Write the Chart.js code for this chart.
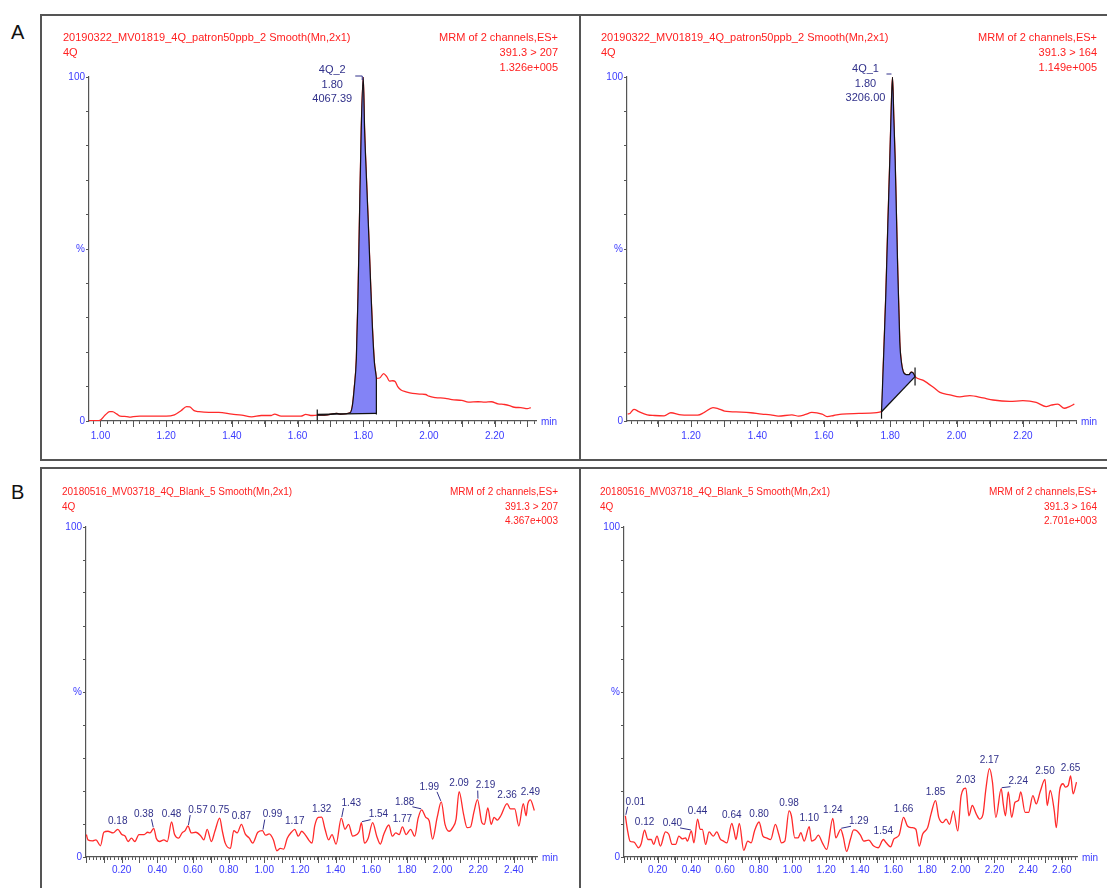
<!DOCTYPE html>
<html><head><meta charset="utf-8">
<script src="https://cdn.jsdelivr.net/npm/chart.js@4.4.1/dist/chart.umd.min.js"></script>
<style>
body{margin:0;width:1107px;height:888px;background:#fff;position:relative;overflow:hidden;font-family:"Liberation Sans",Arial,sans-serif;}
.box{position:absolute;border:2px solid #555;box-sizing:border-box;}
.vl{position:absolute;width:2px;background:#555;}
.letter{position:absolute;font-size:20px;color:#111;line-height:22px;}
.hdr{position:absolute;color:#ff2020;white-space:pre;}
.cv{position:absolute;}
</style></head>
<body>
<div class="box" style="left:40px;top:14px;width:1100px;height:447px;"></div>
<div class="vl" style="left:579px;top:14px;height:447px;"></div>
<div class="box" style="left:40px;top:467px;width:1100px;height:460px;"></div>
<div class="vl" style="left:579px;top:467px;height:430px;"></div>
<div class="letter" style="left:11px;top:21px;">A</div>
<div class="letter" style="left:11px;top:481px;">B</div>
<canvas id="cAL" class="cv" width="538" height="443" style="left:41px;top:16px;"></canvas>
<canvas id="cAR" class="cv" width="525" height="443" style="left:581px;top:16px;"></canvas>
<canvas id="cBL" class="cv" width="538" height="418" style="left:41px;top:469px;"></canvas>
<canvas id="cBR" class="cv" width="525" height="418" style="left:581px;top:469px;"></canvas>
<script>
// ---------------- DATA ----------------
const aLeftTitle = ['20190322_MV01819_4Q_patron50ppb_2 Smooth(Mn,2x1)', '4Q'];
const aLeftInfo = ['MRM of 2 channels,ES+', '391.3 > 207', '1.326e+005'];
const aRightTitle = ['20190322_MV01819_4Q_patron50ppb_2 Smooth(Mn,2x1)', '4Q'];
const aRightInfo = ['MRM of 2 channels,ES+', '391.3 > 164', '1.149e+005'];
const bLeftTitle = ['20180516_MV03718_4Q_Blank_5 Smooth(Mn,2x1)', '4Q'];
const bLeftInfo = ['MRM of 2 channels,ES+', '391.3 > 207', '4.367e+003'];
const bRightTitle = ['20180516_MV03718_4Q_Blank_5 Smooth(Mn,2x1)', '4Q'];
const bRightInfo = ['MRM of 2 channels,ES+', '391.3 > 164', '2.701e+003'];

const yTickValues = [0, 50, 100];
const yTickTexts = ['0', '%', '100'];
const aLeftTicks = ['1.00','1.20','1.40','1.60','1.80','2.00','2.20'];
const aRightTicks = ['1.20','1.40','1.60','1.80','2.00','2.20'];
const bLeftTicks = ['0.20','0.40','0.60','0.80','1.00','1.20','1.40','1.60','1.80','2.00','2.20','2.40'];
const bRightTicks = ['0.20','0.40','0.60','0.80','1.00','1.20','1.40','1.60','1.80','2.00','2.20','2.40','2.60'];

// [time (min), intensity (%)]
const aLeftTrace = [[0.965,0.1],[0.99,0.1],[1.00,0.3],[1.015,1.8],[1.028,2.7],[1.036,2.7],[1.05,2.0],[1.06,1.4],[1.08,1.3],[1.09,1.1],[1.10,1.3],[1.12,1.4],[1.16,1.4],[1.20,1.4],[1.225,1.8],[1.245,3.0],[1.262,4.2],[1.272,4.1],[1.285,3.0],[1.30,2.7],[1.33,2.5],[1.36,2.5],[1.40,2.0],[1.43,1.7],[1.46,1.2],[1.49,1.6],[1.52,1.6],[1.53,2.0],[1.55,1.4],[1.58,1.4],[1.61,1.4],[1.625,1.9],[1.64,1.6],[1.66,1.7],[1.69,1.8],[1.72,2.2],[1.73,2.0],[1.76,2.4],[1.767,4.5],[1.773,10],[1.779,18],[1.784,36],[1.788,56],[1.794,85],[1.800,100],[1.804,85],[1.810,70],[1.816,56],[1.822,41],[1.828,27],[1.834,17],[1.838,14],[1.84,12.4],[1.85,12.5],[1.862,13.8],[1.872,12.8],[1.88,11.6],[1.89,11.7],[1.897,11.5],[1.905,10],[1.915,9.0],[1.93,8.5],[1.95,8.0],[1.975,7.8],[1.99,7.7],[2.00,7.2],[2.02,6.8],[2.05,6.6],[2.07,6.2],[2.10,6.0],[2.12,5.5],[2.15,5.6],[2.17,5.5],[2.19,5.6],[2.21,5.0],[2.23,4.8],[2.245,4.5],[2.26,4.0],[2.28,3.9],[2.30,3.6],[2.31,3.9]];
const aLeftBase = [[1.66,1.9],[1.84,2.2]];
const aLeftPeakText = ['4Q_2','1.80','4067.39'];

const aRightTrace = [[1.009,2.0],[1.016,2.2],[1.028,3.4],[1.043,2.7],[1.068,1.8],[1.09,1.6],[1.119,1.5],[1.139,2.4],[1.17,1.8],[1.22,1.7],[1.24,2.5],[1.266,3.9],[1.281,3.6],[1.301,2.9],[1.352,2.6],[1.38,2.4],[1.413,2.0],[1.44,1.8],[1.463,1.4],[1.504,1.8],[1.524,1.4],[1.545,1.9],[1.564,2.5],[1.595,2.0],[1.61,1.3],[1.63,1.6],[1.655,2.0],[1.706,2.2],[1.74,2.3],[1.774,2.7],[1.780,18],[1.787,37],[1.793,57],[1.799,76],[1.803,90],[1.807,100],[1.811,88],[1.815,76],[1.822,47],[1.829,23],[1.834,17],[1.839,14.5],[1.848,13.5],[1.857,13.5],[1.863,14.2],[1.869,14],[1.875,12.9],[1.90,11.8],[1.93,9.8],[1.95,8.3],[1.98,7.6],[2.01,7.0],[2.04,7.4],[2.08,6.7],[2.11,6.1],[2.16,5.7],[2.20,5.9],[2.24,5.4],[2.27,4.2],[2.285,4.6],[2.305,4.9],[2.325,3.7],[2.34,4.2],[2.355,4.9]];
const aRightBase = [[1.774,2.7],[1.875,12.9]];
const aRightPeakText = ['4Q_1','1.80','3206.00'];

const bLeftTrace = [[0.002,6.8],[0.011,5.2],[0.036,4.9],[0.056,5.2],[0.081,3.4],[0.100,7.5],[0.123,7.8],[0.152,7.3],[0.178,8.4],[0.201,6.8],[0.220,6.3],[0.236,4.7],[0.255,5.7],[0.274,4.7],[0.297,6.8],[0.326,6.8],[0.346,7.5],[0.359,7.3],[0.380,8.7],[0.394,5.7],[0.413,4.7],[0.437,5.2],[0.456,4.7],[0.480,10.6],[0.497,6.8],[0.520,5.7],[0.539,7.3],[0.556,8.0],[0.572,9.4],[0.591,7.3],[0.616,7.5],[0.645,6.3],[0.661,5.2],[0.680,8.4],[0.703,4.7],[0.723,7.8],[0.750,11.8],[0.765,7.8],[0.781,4.2],[0.810,2.6],[0.829,8.0],[0.848,7.3],[0.872,9.9],[0.893,7.0],[0.916,5.7],[0.935,4.2],[0.964,7.5],[0.990,8.0],[1.007,6.6],[1.028,7.0],[1.051,5.2],[1.071,1.9],[1.090,2.6],[1.109,2.4],[1.129,5.7],[1.152,7.5],[1.171,8.4],[1.191,6.3],[1.210,7.8],[1.229,6.8],[1.249,5.2],[1.268,4.2],[1.283,9.4],[1.303,12.0],[1.322,12.1],[1.341,8.4],[1.361,5.2],[1.380,6.8],[1.403,3.9],[1.432,11.8],[1.453,8.4],[1.473,9.9],[1.496,6.3],[1.519,6.8],[1.533,7.8],[1.545,10.4],[1.562,4.2],[1.583,5.7],[1.608,10.4],[1.631,6.3],[1.651,3.9],[1.670,6.8],[1.699,9.7],[1.718,6.3],[1.738,7.3],[1.757,6.8],[1.775,9.1],[1.796,6.8],[1.821,8.4],[1.844,6.3],[1.863,11.7],[1.883,14.3],[1.906,12.0],[1.925,11.0],[1.944,5.4],[1.970,12.0],[1.993,16.7],[2.014,9.9],[2.037,7.8],[2.057,8.9],[2.076,11.5],[2.093,19.8],[2.118,13.0],[2.138,8.9],[2.157,9.1],[2.176,13.6],[2.196,17.4],[2.221,10.4],[2.235,9.9],[2.254,14.9],[2.273,9.9],[2.289,12.0],[2.308,11.2],[2.327,12.5],[2.362,16.2],[2.381,14.6],[2.405,14.6],[2.428,9.4],[2.453,16.2],[2.469,12.5],[2.478,16.0],[2.493,17.3],[2.515,14.1]];
const bLeftPeaks = ['0.18','0.38','0.48','0.57','0.75','0.87','0.99','1.17','1.32','1.43','1.54','1.77','1.88','1.99','2.09','2.19','2.36','2.49'];

const bRightTrace = [[0.008,12.5],[0.020,8.4],[0.036,4.8],[0.060,4.5],[0.086,2.8],[0.102,4.0],[0.122,8.1],[0.142,5.3],[0.162,5.3],[0.176,3.8],[0.196,6.3],[0.216,3.3],[0.246,7.6],[0.266,6.9],[0.286,3.8],[0.306,3.8],[0.326,6.3],[0.346,5.5],[0.366,5.8],[0.376,4.8],[0.400,7.9],[0.415,4.3],[0.437,11.5],[0.452,8.4],[0.465,8.4],[0.485,3.8],[0.505,7.6],[0.531,6.3],[0.551,7.6],[0.571,5.5],[0.591,4.8],[0.611,4.3],[0.640,10.2],[0.653,7.9],[0.665,5.3],[0.685,10.2],[0.711,2.0],[0.735,4.8],[0.755,4.3],[0.775,7.9],[0.802,10.6],[0.825,6.3],[0.845,5.8],[0.871,5.3],[0.899,9.9],[0.919,6.9],[0.935,4.3],[0.955,4.8],[0.980,14.0],[0.994,12.5],[1.014,5.8],[1.034,5.8],[1.050,7.4],[1.070,4.8],[1.100,9.2],[1.114,4.8],[1.134,5.3],[1.154,6.6],[1.178,4.3],[1.204,2.3],[1.240,11.7],[1.258,5.8],[1.287,8.4],[1.302,6.1],[1.322,1.7],[1.344,5.3],[1.364,8.2],[1.384,7.9],[1.404,6.6],[1.424,4.8],[1.453,5.1],[1.483,3.3],[1.509,2.8],[1.540,5.3],[1.557,4.3],[1.583,3.1],[1.603,5.5],[1.633,6.6],[1.660,12.0],[1.683,9.4],[1.709,8.9],[1.733,8.4],[1.753,3.3],[1.773,6.9],[1.803,8.9],[1.823,13.0],[1.850,17.1],[1.869,12.0],[1.893,10.4],[1.913,11.5],[1.933,9.9],[1.956,14.0],[1.982,7.9],[2.002,18.6],[2.030,20.9],[2.048,12.5],[2.068,15.6],[2.092,13.0],[2.112,11.5],[2.132,13.0],[2.148,20.2],[2.170,26.8],[2.188,22.7],[2.208,12.0],[2.240,20.7],[2.252,16.1],[2.265,12.5],[2.282,19.7],[2.302,12.0],[2.322,16.6],[2.342,17.1],[2.356,19.7],[2.382,13.5],[2.402,13.5],[2.428,18.6],[2.448,16.1],[2.472,19.9],[2.500,23.5],[2.513,15.6],[2.531,20.2],[2.555,14.0],[2.567,8.9],[2.587,20.2],[2.607,22.2],[2.621,21.2],[2.638,21.7],[2.652,24.6],[2.667,19.1],[2.687,22.7]];
const bRightPeaks = ['0.01','0.12','0.40','0.44','0.64','0.80','0.98','1.10','1.24','1.29','1.54','1.66','1.85','2.03','2.17','2.24','2.50','2.65'];

// ---------------- STYLE (label offsets in px, not data) ----------------
const bLeftLabelOffsets = {'0.38':[-10,-14],'0.57':[10,-16],'0.99':[10,-16],'1.43':[10,-15],'1.54':[17,-8],'1.88':[-17,-8],'1.99':[-12,-15],'2.19':[8,-14]};
const bRightLabelOffsets = {'0.01':[10,-14],'0.40':[-19,-8],'1.29':[18,-8],'2.24':[17,-7]};

const FONT = '"Liberation Sans", Arial, sans-serif';
const BLUE = '#3a3aff';
const NAVY = '#30308a';
const AXIS = '#555';
Chart.defaults.font.family = FONT;

// ---------------- HEADERS ----------------
function header(left, top, lines, align, size, lh, width) {
  const d = document.createElement('div');
  d.className = 'hdr';
  d.style.left = left + 'px';
  d.style.top = top + 'px';
  d.style.fontSize = size + 'px';
  d.style.lineHeight = lh + 'px';
  d.style.textAlign = align;
  if (width) d.style.width = width + 'px';
  d.textContent = lines.join('\n');
  document.body.appendChild(d);
}
header(63, 29.5, aLeftTitle, 'left', 11, 15);
header(300, 29.5, aLeftInfo, 'right', 11, 15, 258);
header(601, 29.5, aRightTitle, 'left', 11, 15);
header(840, 29.5, aRightInfo, 'right', 11, 15, 257);
header(62, 485, bLeftTitle, 'left', 10, 14.5);
header(300, 485, bLeftInfo, 'right', 10, 14.5, 258);
header(600, 485, bRightTitle, 'left', 10, 14.5);
header(840, 485, bRightInfo, 'right', 10, 14.5, 257);

// ---------------- CHARTS ----------------
function pts(arr) { return arr.map(p => ({x: p[0], y: p[1]})); }

function findPeak(trace, t) {
  let best = null;
  for (const p of trace) {
    if (Math.abs(p[0] - t) <= 0.016 && (!best || p[1] > best[1])) best = p;
  }
  return best;
}

function extrasPlugin(spec) {
  return {
    id: 'extras',
    afterDraw(chart) {
      const ctx = chart.ctx, xs = chart.scales.x, ys = chart.scales.y, ca = chart.chartArea;
      ctx.save();
      // major x ticks every 0.1 min
      ctx.strokeStyle = AXIS; ctx.lineWidth = 1;
      for (const t of xs.ticks) {
        const q = t.value * 10;
        if (Math.abs(q - Math.round(q)) < 1e-6) {
          const px = Math.round(xs.getPixelForValue(t.value)) + 0.5;
          ctx.beginPath(); ctx.moveTo(px, ca.bottom); ctx.lineTo(px, ca.bottom + 6); ctx.stroke();
        }
      }
      // "min"
      ctx.fillStyle = BLUE; ctx.font = '10px ' + FONT; ctx.textAlign = 'left'; ctx.textBaseline = 'middle';
      ctx.fillText('min', ca.right + 5, ca.bottom + 1);

      // integrated peak annotation (A panels)
      if (spec.base) {
        const b0 = spec.base[0], b1 = spec.base[1];
        const x0 = xs.getPixelForValue(b0[0]), y0 = ys.getPixelForValue(b0[1]);
        const x1 = xs.getPixelForValue(b1[0]), y1 = ys.getPixelForValue(b1[1]);
        const endPt = spec.trace.find(p => Math.abs(p[0] - b1[0]) < 1e-9);
        const ye = ys.getPixelForValue(endPt[1]);
        ctx.strokeStyle = '#111'; ctx.lineWidth = 1.2;
        ctx.beginPath(); ctx.moveTo(x0, y0 + spec.startTick[0]); ctx.lineTo(x0, y0 + spec.startTick[1]); ctx.stroke();
        ctx.beginPath(); ctx.moveTo(x1, Math.max(y1 + spec.endTick[1], ye)); ctx.lineTo(x1, Math.min(y1 + spec.endTick[0], ye)); ctx.stroke();
        // peak label
        const top = spec.trace.reduce((a, p) => p[1] > a[1] ? p : a);
        const px = xs.getPixelForValue(top[0]), py = ys.getPixelForValue(top[1]);
        ctx.fillStyle = NAVY; ctx.font = '11px ' + FONT; ctx.textAlign = 'center'; ctx.textBaseline = 'middle';
        spec.peakText.forEach((s, i) => ctx.fillText(s, px + spec.peakDx, py + spec.peakDy[i]));
        ctx.strokeStyle = NAVY; ctx.lineWidth = 1;
        ctx.beginPath();
        ctx.moveTo(px + spec.leader[0], py + spec.leader[1]);
        ctx.lineTo(px + spec.leader[2], py + spec.leader[1]);
        ctx.lineTo(px + spec.leader[2], py + spec.leader[3]);
        ctx.stroke();
      }
      // peak labels (B panels)
      if (spec.peaks) {
        ctx.font = '10px ' + FONT; ctx.textAlign = 'center'; ctx.textBaseline = 'middle';
        ctx.fillStyle = NAVY; ctx.strokeStyle = NAVY; ctx.lineWidth = 1;
        for (const lab of spec.peaks) {
          const p = findPeak(spec.trace, parseFloat(lab));
          if (!p) continue;
          const px = xs.getPixelForValue(p[0]), py = ys.getPixelForValue(p[1]);
          const off = spec.offsets[lab] || [0, -8];
          const tx = px + off[0], ty = py + off[1];
          ctx.fillText(lab, tx, ty);
          if (Math.abs(off[0]) > 3) {
            const w = ctx.measureText(lab).width;
            const sg = Math.sign(off[0]);
            ctx.beginPath();
            ctx.moveTo(tx - sg * (w / 2 - 2), ty + 5);
            ctx.lineTo(px + sg * 0.5, py - 1);
            ctx.stroke();
          }
        }
      }
      ctx.restore();
    }
  };
}

function makeChart(id, spec) {
  const datasets = [];
  if (spec.base) {
    const lo = spec.base[0][0] - 1e-9, hi = spec.base[1][0] + 1e-9;
    datasets.push({data: pts(spec.trace.filter(p => p[0] >= lo && p[0] <= hi)), borderColor: '#111', borderWidth: 1.2,
      backgroundColor: '#8383f6', fill: 1, pointRadius: 0, cubicInterpolationMode: 'monotone', order: 0});
    datasets.push({data: pts(spec.base), borderColor: '#111', borderWidth: 1.3, pointRadius: 0, fill: false, order: -1});
  }
  datasets.push({data: pts(spec.trace), borderColor: '#ff2a2a', borderWidth: 1.3, pointRadius: 0, fill: false,
    cubicInterpolationMode: 'monotone', order: 1});
  return new Chart(document.getElementById(id), {
    type: 'line',
    data: {datasets},
    options: {
      responsive: false, animation: false, events: [],
      layout: {padding: spec.pad},
      plugins: {legend: {display: false}, tooltip: {enabled: false}},
      scales: {
        x: {
          type: 'linear', min: spec.xmin, max: spec.xmax,
          border: {display: true, color: AXIS, width: 1.2},
          grid: {display: true, drawOnChartArea: false, drawTicks: true, tickLength: 3, color: AXIS},
          ticks: {stepSize: 0.02, autoSkip: false, maxRotation: 0, minRotation: 0, includeBounds: false,
            padding: spec.xPad, color: BLUE, font: {size: spec.tickSize},
            callback: v => { const s = Number(v).toFixed(2); return spec.ticks.includes(s) ? s : ''; }},
          afterFit: s => { s.height = spec.xH; }
        },
        y: {
          min: 0, max: 100,
          border: {display: true, color: AXIS, width: 1.2},
          grid: {display: true, drawOnChartArea: false, drawTicks: true, tickLength: 3, color: AXIS},
          ticks: {stepSize: 10, autoSkip: false, padding: 1, color: BLUE, font: {size: spec.tickSize},
            callback: v => { const i = yTickValues.indexOf(Math.round(v)); return i >= 0 ? yTickTexts[i] : ''; }},
          afterFit: s => { s.width = 30; }
        }
      }
    },
    plugins: [extrasPlugin(spec)]
  });
}

makeChart('cAL', {trace: aLeftTrace, base: aLeftBase, peakText: aLeftPeakText, ticks: aLeftTicks,
  xmin: 0.965, xmax: 2.326, pad: {left: 18, right: 43, top: 61, bottom: 13}, xH: 25, xPad: 6, tickSize: 10,
  startTick: [-5, 6], endTick: [-1, 1], peakDx: -31, peakDy: [-7, 8, 22], leader: [-8, -1, -1, 3]});
makeChart('cAR', {trace: aRightTrace, base: aRightBase, peakText: aRightPeakText, ticks: aRightTicks,
  xmin: 1.007, xmax: 2.36, pad: {left: 16, right: 30, top: 61, bottom: 13}, xH: 25, xPad: 6, tickSize: 10,
  startTick: [-3, 7], endTick: [-9, 9], peakDx: -27, peakDy: [-8, 7, 21], leader: [-6, -3, -1, -3]});
makeChart('cBL', {trace: bLeftTrace, peaks: bLeftPeaks, offsets: bLeftLabelOffsets, ticks: bLeftTicks,
  xmin: 0, xmax: 2.53, pad: {left: 15, right: 42, top: 58, bottom: 8}, xH: 22, xPad: 4, tickSize: 10});
makeChart('cBR', {trace: bRightTrace, peaks: bRightPeaks, offsets: bRightLabelOffsets, ticks: bRightTicks,
  xmin: 0, xmax: 2.69, pad: {left: 13, right: 29, top: 58, bottom: 8}, xH: 22, xPad: 4, tickSize: 10});
</script>
</body></html>
